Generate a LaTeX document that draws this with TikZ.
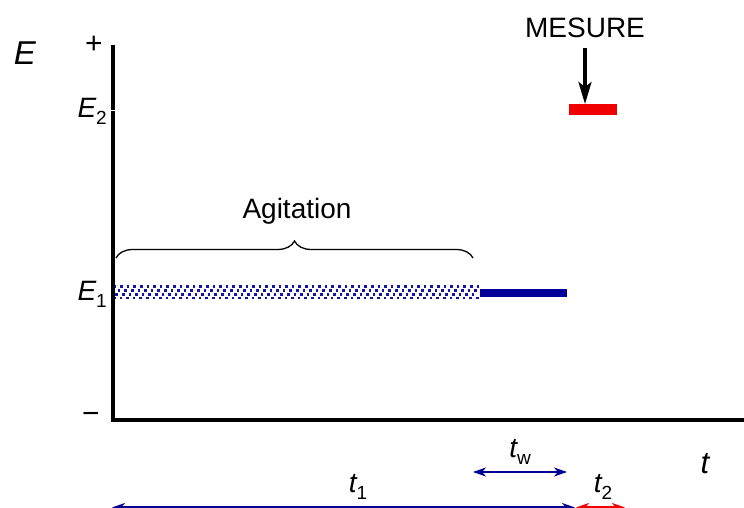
\documentclass[tikz,border=0pt]{standalone}
\usepackage{fontspec}
\setmainfont{Liberation Sans}
\usetikzlibrary{arrows.meta,decorations.pathreplacing}
\definecolor{navy}{RGB}{0,0,150}
\definecolor{dotblue}{RGB}{20,20,170}
\definecolor{mred}{RGB}{240,0,0}
\newcommand\mysub[1]{\raisebox{-0.25em}{\fontsize{19}{19}\selectfont #1}}
\tikzset{
  lbl/.style={inner sep=0pt, font=\fontsize{28}{28}\selectfont},
  axis/.style={line width=4pt, line join=miter},
  dim/.style={line width=2.6pt, {Stealth[length=13pt,width=9pt,inset=4pt]}-{Stealth[length=13pt,width=9pt,inset=4pt]}},
}
\begin{document}
\begin{tikzpicture}[x=1pt,y=1pt]
\useasboundingbox (0,0) rectangle (744,508);
% dotted agitation bar
\foreach \r in {0,1,2,3}{
  \foreach \c in {0,...,55}{
    \pgfmathsetmacro\xx{113+6.6*\c+mod(2.4*\r,6.6)}
    \pgfmathsetmacro\yy{208.6+3.8*\r}
    \pgfmathparse{\xx<477?1:0}
    \ifnum\pgfmathresult=1
      \fill[dotblue] (\xx,\yy) rectangle +(2.5,2.5);
    \fi
  }
}
% solid blue bar
\fill[navy] (480,211) rectangle (567,219);
% red measure bar
\fill[mred] (569,393) rectangle (617,404);
% axes
\coordinate (top) at (113,463);
\coordinate (orig) at (113,88);
\coordinate (right) at (746,88);
\draw[axis] (top) -- (orig) -- (right);
\draw[white, line width=0.6pt] (110.5,398) -- (115.5,398);
% labels
\node[lbl, font=\fontsize{33}{33}\selectfont\itshape] (E) at (25,455) {E};
\node[lbl, font=\fontsize{30}{30}\selectfont] (plus) at (94,463) {+};
\node[lbl, font=\fontsize{30}{30}\selectfont] (minus) at (91,90) {−};
\node[lbl, anchor=base east] (E2) at (107,390) {\itshape E\upshape\mysub{2}};
\node[lbl, anchor=base east] (E1) at (107,207) {\itshape E\upshape\mysub{1}};
\node[lbl] (mes) at (585,480) {MESURE};
\node[lbl] (agit) at (297,297) {Agitation};
\node[lbl, anchor=base] (tw) at (520,50) {\itshape t\upshape\mysub{w}};
\node[lbl, font=\fontsize{31}{31}\selectfont\itshape, anchor=base] (t) at (705,34) {t};
\node[lbl, anchor=base] (t1) at (358,15) {\itshape t\upshape\mysub{1}};
\node[lbl, anchor=base] (t2) at (603,15) {\itshape t\upshape\mysub{2}};
% measure arrow
\coordinate (mesA) at (585,460);
\coordinate (mesB) at (585,404);
\draw[line width=3.5pt, -{Stealth[length=22pt,width=13pt,inset=5pt]}] (mesA) -- (mesB);
% brace
\coordinate (brL) at (116,250);
\coordinate (brR) at (473,250);
\draw[line width=1.3pt, decorate, decoration={brace, amplitude=17pt}] (brL) -- (brR);
% dimension arrows
\coordinate (twL) at (473,36);
\coordinate (twR) at (567,36);
\draw[dim, navy] (twL) -- (twR);
\coordinate (t1L) at (112,0.5);
\coordinate (t1R) at (575,0.5);
\draw[dim, navy] (t1L) -- (t1R);
\coordinate (t2L) at (576,0.5);
\coordinate (t2R) at (625,0.5);
\draw[dim, mred] (t2L) -- (t2R);
\end{tikzpicture}
\end{document}
